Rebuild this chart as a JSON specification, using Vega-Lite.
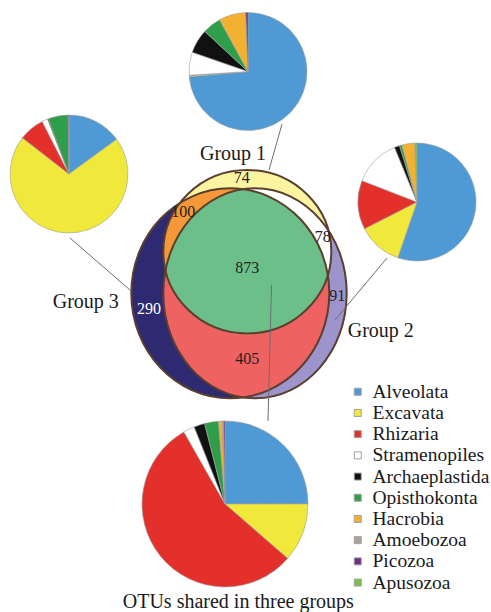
{
  "$schema": "https://vega.github.io/schema/vega-lite/v6.json",
  "width": 491,
  "height": 612,
  "autosize": {"type": "none"},
  "padding": 0,
  "background": "white",
  "config": {
    "font": "Liberation Serif",
    "view": {"stroke": null},
    "text": {"font": "Liberation Serif"},
    "legend": {"labelFont": "Liberation Serif", "labelFontSize": 19.5, "labelColor": "#1a1a1a"}
  },
  "datasets": {
    "venn": [
      {"region": "Group 3 only", "otus": 290},
      {"region": "Group 2 only", "otus": 91},
      {"region": "Groups 2 and 3", "otus": 405},
      {"region": "Group 1 only", "otus": 74},
      {"region": "Groups 1 and 3", "otus": 100},
      {"region": "Groups 1 and 2", "otus": 78},
      {"region": "All three groups", "otus": 873}
    ],
    "groups": [
      {"group": "Group 1"},
      {"group": "Group 2"},
      {"group": "Group 3"},
      {"group": "OTUs shared in three groups"}
    ],
    "pies": [
      {"group": "Group 1", "taxon": "Alveolata", "k": 1, "pct": 73.6},
      {"group": "Group 1", "taxon": "Excavata", "k": 2, "pct": 0.3},
      {"group": "Group 1", "taxon": "Rhizaria", "k": 3, "pct": 0.1},
      {"group": "Group 1", "taxon": "Stramenopiles", "k": 4, "pct": 6.3},
      {"group": "Group 1", "taxon": "Archaeplastida", "k": 5, "pct": 6.6},
      {"group": "Group 1", "taxon": "Opisthokonta", "k": 6, "pct": 5.1},
      {"group": "Group 1", "taxon": "Hacrobia", "k": 7, "pct": 7.4},
      {"group": "Group 1", "taxon": "Picozoa", "k": 9, "pct": 0.6},
      {"group": "Group 2", "taxon": "Alveolata", "k": 1, "pct": 55.3},
      {"group": "Group 2", "taxon": "Excavata", "k": 2, "pct": 12.2},
      {"group": "Group 2", "taxon": "Rhizaria", "k": 3, "pct": 13.4},
      {"group": "Group 2", "taxon": "Stramenopiles", "k": 4, "pct": 12.9},
      {"group": "Group 2", "taxon": "Archaeplastida", "k": 5, "pct": 1.4},
      {"group": "Group 2", "taxon": "Opisthokonta", "k": 6, "pct": 0.7},
      {"group": "Group 2", "taxon": "Hacrobia", "k": 7, "pct": 3.5},
      {"group": "Group 2", "taxon": "Apusozoa", "k": 10, "pct": 0.6},
      {"group": "Group 3", "taxon": "Alveolata", "k": 1, "pct": 15.0},
      {"group": "Group 3", "taxon": "Excavata", "k": 2, "pct": 70.5},
      {"group": "Group 3", "taxon": "Rhizaria", "k": 3, "pct": 7.0},
      {"group": "Group 3", "taxon": "Stramenopiles", "k": 4, "pct": 1.6},
      {"group": "Group 3", "taxon": "Archaeplastida", "k": 5, "pct": 0.2},
      {"group": "Group 3", "taxon": "Opisthokonta", "k": 6, "pct": 5.5},
      {"group": "Group 3", "taxon": "Picozoa", "k": 9, "pct": 0.2},
      {"group": "OTUs shared in three groups", "taxon": "Alveolata", "k": 1, "pct": 25.0},
      {"group": "OTUs shared in three groups", "taxon": "Excavata", "k": 2, "pct": 11.4},
      {"group": "OTUs shared in three groups", "taxon": "Rhizaria", "k": 3, "pct": 55.4},
      {"group": "OTUs shared in three groups", "taxon": "Stramenopiles", "k": 4, "pct": 2.2},
      {"group": "OTUs shared in three groups", "taxon": "Archaeplastida", "k": 5, "pct": 2.1},
      {"group": "OTUs shared in three groups", "taxon": "Opisthokonta", "k": 6, "pct": 2.7},
      {"group": "OTUs shared in three groups", "taxon": "Hacrobia", "k": 7, "pct": 0.75},
      {"group": "OTUs shared in three groups", "taxon": "Amoebozoa", "k": 8, "pct": 0.25},
      {"group": "OTUs shared in three groups", "taxon": "Picozoa", "k": 9, "pct": 0.25}
    ]
  },
  "resolve": {"scale": {"theta": "independent"}},
  "layer": [
    {
      "data": {"name": "venn"},
      "mark": {"type": "point", "filled": true, "size": 4, "strokeWidth": 0, "opacity": 1},
      "encoding": {
        "x": {"datum": 240, "type": "quantitative", "scale": {"domain": [0, 491], "nice": false, "zero": false}, "axis": null},
        "y": {"datum": 290, "type": "quantitative", "scale": {"domain": [0, 612], "nice": false, "zero": false, "reverse": true}, "axis": null},
        "shape": {"field": "region", "type": "nominal", "legend": null, "scale": {
          "domain": ["Group 3 only", "Group 2 only", "Groups 2 and 3", "Group 1 only", "Groups 1 and 3", "Groups 1 and 2", "All three groups"],
          "range": [
            "M -108.7 3.3 A 99 105 0 1 0 89.3 3.3 A 99 105 0 1 0 -108.7 3.3 Z",
            "M -76.7 3.3 A 91.7 105 0 1 0 106.7 3.3 A 91.7 105 0 1 0 -76.7 3.3 Z",
            "M 3.1 -100.8 A 99 105 0 0 1 3.1 107.4 A 91.7 105 0 0 1 3.1 -100.8 Z",
            "M -76.7 -38.3 A 84 81.7 0 1 0 91.3 -38.3 A 84 81.7 0 1 0 -76.7 -38.3 Z",
            "M 87.8 -15 A 84 81.7 0 1 1 -60.2 -86.9 A 99 105 0 0 1 87.8 -15 Z",
            "M 88.3 -59.7 A 84 81.7 0 1 1 -74.5 -19.6 A 91.7 105 0 0 1 88.3 -59.7 Z",
            "M 3.1 -100.8 A 99 105 0 0 1 87.8 -15 A 84 81.7 0 0 1 -74.5 -19.6 A 91.7 105 0 0 1 3.1 -100.8 Z"
          ]}},
        "fill": {"field": "region", "type": "nominal", "legend": null, "scale": {
          "domain": ["Group 3 only", "Group 2 only", "Groups 2 and 3", "Group 1 only", "Groups 1 and 3", "Groups 1 and 2", "All three groups"],
          "range": ["#2e2a72", "#9d94cc", "#ef6262", "#fbf5a2", "#f4983a", "#ffffff", "#6dbf8a"]}}
      }
    },
    {
      "data": {"name": "venn"},
      "transform": [{"filter": {"field": "region", "oneOf": ["Group 3 only", "Group 2 only", "Group 1 only"]}}],
      "mark": {"type": "point", "filled": false, "size": 4, "stroke": "#5a3e2e", "strokeWidth": 2, "opacity": 1},
      "encoding": {
        "x": {"datum": 240, "type": "quantitative", "scale": {"domain": [0, 491], "nice": false, "zero": false}, "axis": null},
        "y": {"datum": 290, "type": "quantitative", "scale": {"domain": [0, 612], "nice": false, "zero": false, "reverse": true}, "axis": null},
        "shape": {"field": "region", "type": "nominal", "legend": null}
      }
    },
    {
      "data": {"name": "venn"},
      "transform": [{"filter": "datum.region === 'Group 1 only'"}],
      "mark": {"type": "text", "fontSize": 16, "color": "#222222"},
      "encoding": {
        "x": {"datum": 241.7, "type": "quantitative", "scale": {"domain": [0, 491], "nice": false, "zero": false}, "axis": null},
        "y": {"datum": 178.3, "type": "quantitative", "scale": {"domain": [0, 612], "nice": false, "zero": false, "reverse": true}, "axis": null},
        "text": {"field": "otus"}
      }
    },
    {
      "data": {"name": "venn"},
      "transform": [{"filter": "datum.region === 'Groups 1 and 3'"}],
      "mark": {"type": "text", "fontSize": 16, "color": "#222222"},
      "encoding": {
        "x": {"datum": 183.3, "type": "quantitative", "scale": {"domain": [0, 491], "nice": false, "zero": false}, "axis": null},
        "y": {"datum": 211.7, "type": "quantitative", "scale": {"domain": [0, 612], "nice": false, "zero": false, "reverse": true}, "axis": null},
        "text": {"field": "otus"}
      }
    },
    {
      "data": {"name": "venn"},
      "transform": [{"filter": "datum.region === 'Groups 1 and 2'"}],
      "mark": {"type": "text", "fontSize": 16, "color": "#222222"},
      "encoding": {
        "x": {"datum": 322.7, "type": "quantitative", "scale": {"domain": [0, 491], "nice": false, "zero": false}, "axis": null},
        "y": {"datum": 237.3, "type": "quantitative", "scale": {"domain": [0, 612], "nice": false, "zero": false, "reverse": true}, "axis": null},
        "text": {"field": "otus"}
      }
    },
    {
      "data": {"name": "venn"},
      "transform": [{"filter": "datum.region === 'All three groups'"}],
      "mark": {"type": "text", "fontSize": 16, "color": "#222222"},
      "encoding": {
        "x": {"datum": 247.3, "type": "quantitative", "scale": {"domain": [0, 491], "nice": false, "zero": false}, "axis": null},
        "y": {"datum": 268.3, "type": "quantitative", "scale": {"domain": [0, 612], "nice": false, "zero": false, "reverse": true}, "axis": null},
        "text": {"field": "otus"}
      }
    },
    {
      "data": {"name": "venn"},
      "transform": [{"filter": "datum.region === 'Group 3 only'"}],
      "mark": {"type": "text", "fontSize": 16, "color": "#ffffff"},
      "encoding": {
        "x": {"datum": 149, "type": "quantitative", "scale": {"domain": [0, 491], "nice": false, "zero": false}, "axis": null},
        "y": {"datum": 309, "type": "quantitative", "scale": {"domain": [0, 612], "nice": false, "zero": false, "reverse": true}, "axis": null},
        "text": {"field": "otus"}
      }
    },
    {
      "data": {"name": "venn"},
      "transform": [{"filter": "datum.region === 'Group 2 only'"}],
      "mark": {"type": "text", "fontSize": 16, "color": "#222222"},
      "encoding": {
        "x": {"datum": 337.3, "type": "quantitative", "scale": {"domain": [0, 491], "nice": false, "zero": false}, "axis": null},
        "y": {"datum": 296, "type": "quantitative", "scale": {"domain": [0, 612], "nice": false, "zero": false, "reverse": true}, "axis": null},
        "text": {"field": "otus"}
      }
    },
    {
      "data": {"name": "venn"},
      "transform": [{"filter": "datum.region === 'Groups 2 and 3'"}],
      "mark": {"type": "text", "fontSize": 16, "color": "#222222"},
      "encoding": {
        "x": {"datum": 247.3, "type": "quantitative", "scale": {"domain": [0, 491], "nice": false, "zero": false}, "axis": null},
        "y": {"datum": 359, "type": "quantitative", "scale": {"domain": [0, 612], "nice": false, "zero": false, "reverse": true}, "axis": null},
        "text": {"field": "otus"}
      }
    },
    {
      "data": {"name": "groups"},
      "transform": [{"filter": "datum.group === 'Group 1'"}],
      "mark": {"type": "rule", "color": "#6e6e6e", "strokeWidth": 1},
      "encoding": {
        "x": {"datum": 282, "type": "quantitative", "scale": {"domain": [0, 491], "nice": false, "zero": false}, "axis": null},
        "y": {"datum": 124, "type": "quantitative", "scale": {"domain": [0, 612], "nice": false, "zero": false, "reverse": true}, "axis": null},
        "x2": {"datum": 269},
        "y2": {"datum": 170}
      }
    },
    {
      "data": {"name": "groups"},
      "transform": [{"filter": "datum.group === 'Group 3'"}],
      "mark": {"type": "rule", "color": "#6e6e6e", "strokeWidth": 1},
      "encoding": {
        "x": {"datum": 70, "type": "quantitative", "scale": {"domain": [0, 491], "nice": false, "zero": false}, "axis": null},
        "y": {"datum": 238, "type": "quantitative", "scale": {"domain": [0, 612], "nice": false, "zero": false, "reverse": true}, "axis": null},
        "x2": {"datum": 130},
        "y2": {"datum": 290}
      }
    },
    {
      "data": {"name": "groups"},
      "transform": [{"filter": "datum.group === 'Group 2'"}],
      "mark": {"type": "rule", "color": "#6e6e6e", "strokeWidth": 1},
      "encoding": {
        "x": {"datum": 387, "type": "quantitative", "scale": {"domain": [0, 491], "nice": false, "zero": false}, "axis": null},
        "y": {"datum": 258, "type": "quantitative", "scale": {"domain": [0, 612], "nice": false, "zero": false, "reverse": true}, "axis": null},
        "x2": {"datum": 335},
        "y2": {"datum": 320}
      }
    },
    {
      "data": {"name": "groups"},
      "transform": [{"filter": "datum.group === 'OTUs shared in three groups'"}],
      "mark": {"type": "rule", "color": "#6e6e6e", "strokeWidth": 1},
      "encoding": {
        "x": {"datum": 271.5, "type": "quantitative", "scale": {"domain": [0, 491], "nice": false, "zero": false}, "axis": null},
        "y": {"datum": 285, "type": "quantitative", "scale": {"domain": [0, 612], "nice": false, "zero": false, "reverse": true}, "axis": null},
        "x2": {"datum": 268},
        "y2": {"datum": 421}
      }
    },
    {
      "data": {"name": "pies"},
      "transform": [{"filter": "datum.group === 'Group 1'"}],
      "mark": {"type": "arc", "outerRadius": 59, "stroke": "#a0a0a0", "strokeWidth": 0.6},
      "encoding": {
        "x": {"datum": 248, "type": "quantitative", "scale": {"domain": [0, 491], "nice": false, "zero": false}, "axis": null},
        "y": {"datum": 71.5, "type": "quantitative", "scale": {"domain": [0, 612], "nice": false, "zero": false, "reverse": true}, "axis": null},
        "theta": {"field": "pct", "type": "quantitative", "stack": true},
        "order": {"field": "k", "type": "quantitative"},
        "color": {"field": "taxon", "type": "nominal",
          "scale": {"domain": ["Alveolata", "Excavata", "Rhizaria", "Stramenopiles", "Archaeplastida", "Opisthokonta", "Hacrobia", "Amoebozoa", "Picozoa", "Apusozoa"],
                    "range": ["#4f9ad4", "#f1e83c", "#e4302b", "#ffffff", "#111111", "#2f9e4a", "#f3b132", "#a9a39f", "#6b2d8e", "#7dbf46"]},
          "legend": {"title": null, "orient": "none", "legendX": 348, "legendY": 382, "symbolType": "square", "symbolSize": 49, "symbolStrokeColor": "#555555", "symbolStrokeWidth": 1, "labelFont": "Liberation Serif", "labelFontSize": 19.5, "labelColor": "#1a1a1a", "rowPadding": 0.2, "labelOffset": 5, "padding": 0, "symbolOffset": 0, "labelLimit": 0}}
      }
    },
    {
      "data": {"name": "pies"},
      "transform": [{"filter": "datum.group === 'Group 2'"}],
      "mark": {"type": "arc", "outerRadius": 59, "stroke": "#a0a0a0", "strokeWidth": 0.6},
      "encoding": {
        "x": {"datum": 417, "type": "quantitative", "scale": {"domain": [0, 491], "nice": false, "zero": false}, "axis": null},
        "y": {"datum": 202, "type": "quantitative", "scale": {"domain": [0, 612], "nice": false, "zero": false, "reverse": true}, "axis": null},
        "theta": {"field": "pct", "type": "quantitative", "stack": true},
        "order": {"field": "k", "type": "quantitative"},
        "color": {"field": "taxon", "type": "nominal"}
      }
    },
    {
      "data": {"name": "pies"},
      "transform": [{"filter": "datum.group === 'Group 3'"}],
      "mark": {"type": "arc", "outerRadius": 59, "stroke": "#a0a0a0", "strokeWidth": 0.6},
      "encoding": {
        "x": {"datum": 69, "type": "quantitative", "scale": {"domain": [0, 491], "nice": false, "zero": false}, "axis": null},
        "y": {"datum": 174, "type": "quantitative", "scale": {"domain": [0, 612], "nice": false, "zero": false, "reverse": true}, "axis": null},
        "theta": {"field": "pct", "type": "quantitative", "stack": true},
        "order": {"field": "k", "type": "quantitative"},
        "color": {"field": "taxon", "type": "nominal"}
      }
    },
    {
      "data": {"name": "pies"},
      "transform": [{"filter": "datum.group === 'OTUs shared in three groups'"}],
      "mark": {"type": "arc", "outerRadius": 83, "stroke": "#a0a0a0", "strokeWidth": 0.6},
      "encoding": {
        "x": {"datum": 225, "type": "quantitative", "scale": {"domain": [0, 491], "nice": false, "zero": false}, "axis": null},
        "y": {"datum": 504, "type": "quantitative", "scale": {"domain": [0, 612], "nice": false, "zero": false, "reverse": true}, "axis": null},
        "theta": {"field": "pct", "type": "quantitative", "stack": true},
        "order": {"field": "k", "type": "quantitative"},
        "color": {"field": "taxon", "type": "nominal"}
      }
    },
    {
      "data": {"name": "groups"},
      "transform": [{"filter": "datum.group === 'Group 1'"}],
      "mark": {"type": "text", "fontSize": 20, "color": "#1a1a1a", "baseline": "alphabetic"},
      "encoding": {
        "x": {"datum": 233, "type": "quantitative", "scale": {"domain": [0, 491], "nice": false, "zero": false}, "axis": null},
        "y": {"datum": 160, "type": "quantitative", "scale": {"domain": [0, 612], "nice": false, "zero": false, "reverse": true}, "axis": null},
        "text": {"field": "group"}
      }
    },
    {
      "data": {"name": "groups"},
      "transform": [{"filter": "datum.group === 'Group 2'"}],
      "mark": {"type": "text", "fontSize": 20, "color": "#1a1a1a", "baseline": "alphabetic"},
      "encoding": {
        "x": {"datum": 380.8, "type": "quantitative", "scale": {"domain": [0, 491], "nice": false, "zero": false}, "axis": null},
        "y": {"datum": 336.7, "type": "quantitative", "scale": {"domain": [0, 612], "nice": false, "zero": false, "reverse": true}, "axis": null},
        "text": {"field": "group"}
      }
    },
    {
      "data": {"name": "groups"},
      "transform": [{"filter": "datum.group === 'Group 3'"}],
      "mark": {"type": "text", "fontSize": 20, "color": "#1a1a1a", "baseline": "alphabetic"},
      "encoding": {
        "x": {"datum": 85.8, "type": "quantitative", "scale": {"domain": [0, 491], "nice": false, "zero": false}, "axis": null},
        "y": {"datum": 307.7, "type": "quantitative", "scale": {"domain": [0, 612], "nice": false, "zero": false, "reverse": true}, "axis": null},
        "text": {"field": "group"}
      }
    },
    {
      "data": {"name": "groups"},
      "transform": [{"filter": "datum.group === 'OTUs shared in three groups'"}],
      "mark": {"type": "text", "fontSize": 20, "color": "#1a1a1a", "baseline": "alphabetic"},
      "encoding": {
        "x": {"datum": 238.3, "type": "quantitative", "scale": {"domain": [0, 491], "nice": false, "zero": false}, "axis": null},
        "y": {"datum": 607.5, "type": "quantitative", "scale": {"domain": [0, 612], "nice": false, "zero": false, "reverse": true}, "axis": null},
        "text": {"field": "group"}
      }
    }
  ]
}
